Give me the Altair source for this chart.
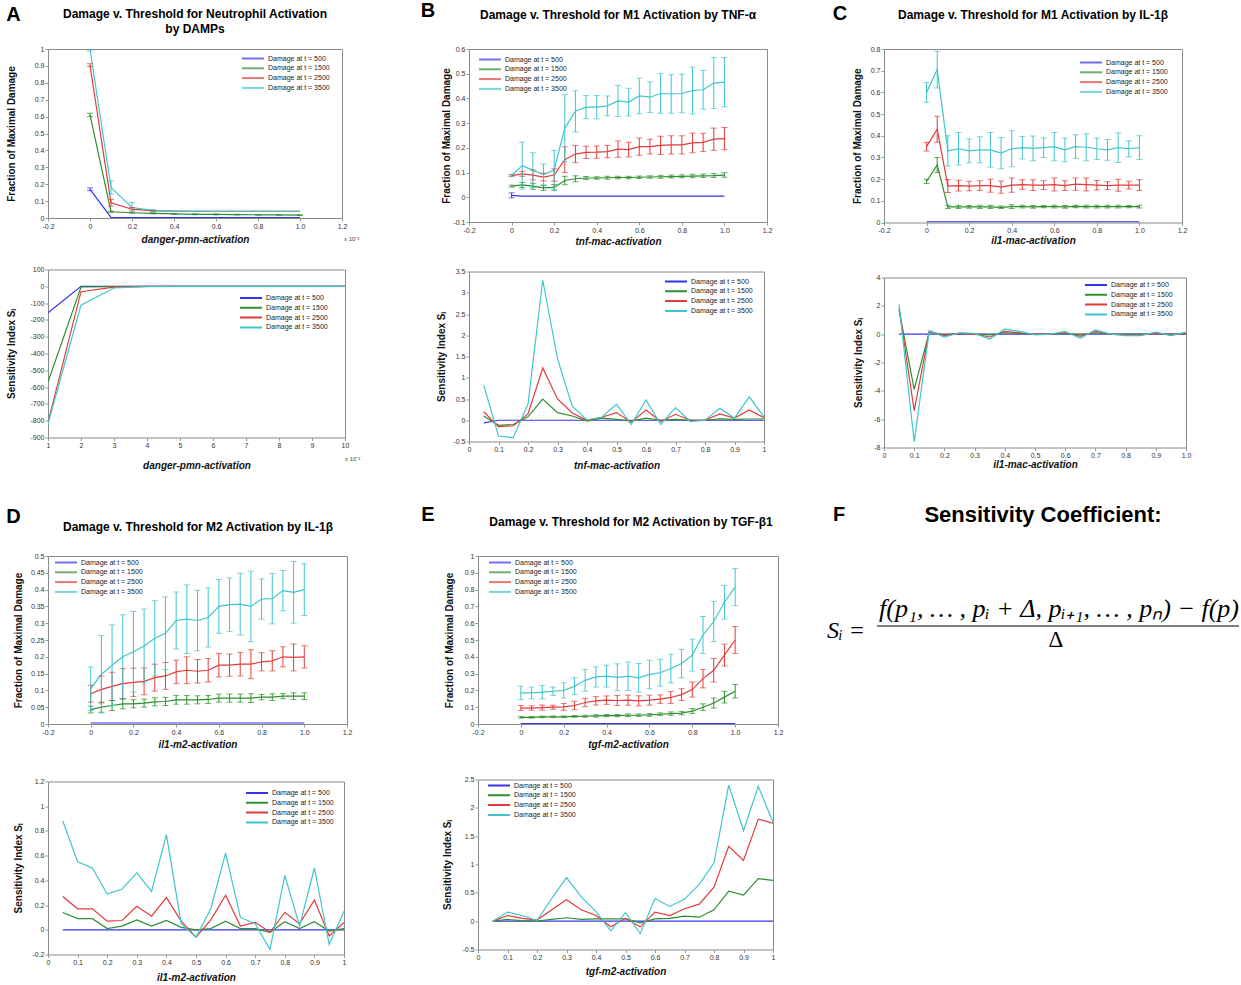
import altair as alt
import pandas as pd

FONT = "Liberation Sans"
SERIF = "Liberation Serif"

SERIES = ["Damage at t = 500", "Damage at t = 1500", "Damage at t = 2500", "Damage at t = 3500"]
COLORS = ["#3535ee", "#2f8f2f", "#e23b3b", "#3fc6cc"]

X21 = [0.0, 0.05, 0.1, 0.15, 0.2, 0.25, 0.3, 0.35, 0.4, 0.45, 0.5, 0.55, 0.6, 0.65, 0.7, 0.75, 0.8, 0.85, 0.9, 0.95, 1.0]
X20 = [0.05, 0.1, 0.15, 0.2, 0.25, 0.3, 0.35, 0.4, 0.45, 0.5, 0.55, 0.6, 0.65, 0.7, 0.75, 0.8, 0.85, 0.9, 0.95, 1.0]

# ---------------- Panel A ----------------
A_X = [0.0, 0.1, 0.2, 0.3, 0.4, 0.5, 0.6, 0.7, 0.8, 0.9, 1.0]
A_500 = [0.17, 0.004, 0.003, 0.003, 0.003, 0.003, 0.003, 0.003, 0.003, 0.003, 0.003]
A_500_ERR = [0.008, 0, 0, 0, 0, 0, 0, 0, 0, 0, 0]
A_1500 = [0.61, 0.037, 0.031, 0.027, 0.024, 0.022, 0.021, 0.02, 0.019, 0.018, 0.017]
A_1500_ERR = [0.01, 0.004, 0.003, 0.003, 0.003, 0.003, 0.003, 0.002, 0.002, 0.002, 0.002]
A_2500 = [0.905, 0.09, 0.052, 0.042, 0.04, 0.04, 0.04, 0.04, 0.04, 0.04, 0.04]
A_2500_ERR = [0.008, 0.02, 0.01, 0.004, 0, 0, 0, 0, 0, 0, 0]
A_3500 = [1.0, 0.18, 0.062, 0.045, 0.042, 0.041, 0.04, 0.04, 0.04, 0.04, 0.04]
A_3500_ERR = [0.01, 0.04, 0.03, 0.005, 0, 0, 0, 0, 0, 0, 0]

AB_X = [1, 2, 3, 4, 5, 6, 7, 8, 9, 10]
AB_500 = [-158, 0, 0, 0, 0, 0, 0, 0, 0, 0]
AB_1500 = [-570, -4, -2, 0, 0, 0, 0, 0, 0, 0]
AB_2500 = [-810, -32, -5, -1, 0, 0, 0, 0, 0, 0]
AB_3500 = [-818, -112, -10, -2, 0, 0, 0, 0, 0, 0]

# ---------------- Panel B ----------------
B_500 = [0.008, 0.005, 0.005, 0.005, 0.005, 0.005, 0.005, 0.005, 0.005, 0.005, 0.005, 0.005, 0.005, 0.005, 0.005, 0.005, 0.005, 0.005, 0.005, 0.005, 0.005]
B_500_ERR = [0.01, 0, 0, 0, 0, 0, 0, 0, 0, 0, 0, 0, 0, 0, 0, 0, 0, 0, 0, 0, 0]
B_1500 = [0.045, 0.05, 0.045, 0.038, 0.04, 0.068, 0.075, 0.078, 0.078, 0.079, 0.08, 0.08, 0.081, 0.082, 0.083, 0.084, 0.085, 0.086, 0.087, 0.088, 0.09]
B_1500_ERR = [0.004, 0.01, 0.012, 0.01, 0.012, 0.017, 0.012, 0.006, 0.005, 0.006, 0.005, 0.005, 0.005, 0.005, 0.006, 0.006, 0.006, 0.007, 0.007, 0.008, 0.009]
B_2500 = [0.088, 0.095, 0.09, 0.082, 0.09, 0.152, 0.175, 0.182, 0.183, 0.185, 0.195, 0.193, 0.205, 0.205, 0.21, 0.212, 0.212, 0.22, 0.222, 0.235, 0.237]
B_2500_ERR = [0.003, 0.01, 0.02, 0.015, 0.025, 0.052, 0.035, 0.025, 0.025, 0.025, 0.033, 0.03, 0.035, 0.03, 0.037, 0.037, 0.037, 0.04, 0.037, 0.045, 0.045]
B_3500 = [0.088, 0.128, 0.11, 0.092, 0.11, 0.28, 0.348, 0.365, 0.365, 0.37, 0.39, 0.385, 0.41, 0.405, 0.42, 0.418, 0.42, 0.432, 0.435, 0.462, 0.466]
B_3500_ERR = [0.005, 0.095, 0.07, 0.042, 0.08, 0.135, 0.083, 0.047, 0.047, 0.04, 0.063, 0.056, 0.072, 0.062, 0.08, 0.078, 0.078, 0.095, 0.078, 0.103, 0.1]

BB_500 = [-0.06, 0.0, 0.0, 0.0, 0.0, 0.0, 0.0, 0.0, 0.0, 0.0, 0.0, 0.0, 0.0, 0.0, 0.0, 0.0, 0.0, 0.0, 0.0, 0.0]
BB_1500 = [0.1, -0.12, -0.1, 0.08, 0.5, 0.18, 0.1, -0.02, 0.05, 0.02, -0.02, 0.05, 0.0, 0.02, 0.0, 0.0, 0.03, 0.02, 0.03, 0.03]
BB_2500 = [0.2, -0.15, -0.13, 0.15, 1.23, 0.5, 0.17, 0.0, 0.07, 0.18, -0.05, 0.24, -0.03, 0.14, 0.0, 0.0, 0.15, 0.05, 0.24, 0.06]
BB_3500 = [0.82, -0.37, -0.41, 0.38, 3.3, 1.45, 0.33, 0.01, 0.07, 0.38, -0.1, 0.48, -0.1, 0.3, -0.03, 0.0, 0.28, 0.05, 0.55, 0.08]

# ---------------- Panel C ----------------
C_500 = [0.003, 0.003, 0.003, 0.003, 0.003, 0.003, 0.003, 0.003, 0.003, 0.003, 0.003, 0.003, 0.003, 0.003, 0.003, 0.003, 0.003, 0.003, 0.003, 0.003, 0.003]
C_500_ERR = [0, 0, 0, 0, 0, 0, 0, 0, 0, 0, 0, 0, 0, 0, 0, 0, 0, 0, 0, 0, 0]
C_1500 = [0.19, 0.265, 0.072, 0.072, 0.072, 0.072, 0.072, 0.07, 0.073, 0.073, 0.072, 0.073, 0.073, 0.072, 0.074, 0.073, 0.073, 0.073, 0.073, 0.073, 0.073]
C_1500_ERR = [0.01, 0.035, 0.008, 0.008, 0.006, 0.007, 0.007, 0.006, 0.009, 0.006, 0.006, 0.005, 0.006, 0.006, 0.006, 0.006, 0.006, 0.006, 0.006, 0.005, 0.006]
C_2500 = [0.35, 0.43, 0.168, 0.17, 0.168, 0.17, 0.17, 0.163, 0.172, 0.175, 0.172, 0.172, 0.175, 0.17, 0.177, 0.175, 0.172, 0.17, 0.172, 0.172, 0.172]
C_2500_ERR = [0.02, 0.06, 0.03, 0.025, 0.022, 0.022, 0.03, 0.028, 0.033, 0.022, 0.025, 0.02, 0.03, 0.022, 0.028, 0.03, 0.022, 0.018, 0.028, 0.018, 0.025]
C_3500 = [0.6, 0.705, 0.33, 0.34, 0.33, 0.335, 0.335, 0.32, 0.34, 0.345, 0.342, 0.345, 0.35, 0.335, 0.35, 0.347, 0.34, 0.335, 0.345, 0.34, 0.345]
C_3500_ERR = [0.045, 0.085, 0.07, 0.075, 0.055, 0.06, 0.08, 0.072, 0.083, 0.052, 0.057, 0.045, 0.065, 0.055, 0.055, 0.062, 0.05, 0.048, 0.068, 0.037, 0.055]

CB_500 = [0.0, 0.0, 0.0, 0.0, 0.0, 0.0, 0.0, 0.0, 0.0, 0.0, 0.0, 0.0, 0.0, 0.0, 0.0, 0.0, 0.0, 0.0, 0.0, 0.0]
CB_1500 = [1.7, -3.9, 0.15, -0.05, 0.05, 0.0, -0.05, 0.1, 0.05, 0.0, 0.0, 0.05, -0.05, 0.1, 0.0, 0.0, 0.0, 0.05, 0.0, 0.05]
CB_2500 = [1.8, -5.4, 0.2, -0.1, 0.05, 0.0, -0.2, 0.2, 0.1, 0.0, 0.0, 0.1, -0.15, 0.2, 0.0, -0.05, -0.05, 0.05, -0.05, 0.05]
CB_3500 = [2.1, -7.6, 0.25, -0.2, 0.1, 0.05, -0.35, 0.35, 0.2, -0.05, 0.0, 0.2, -0.3, 0.3, 0.0, -0.1, -0.1, 0.15, -0.1, 0.15]

# ---------------- Panel D ----------------
D_500 = [0.003, 0.003, 0.003, 0.003, 0.003, 0.003, 0.003, 0.003, 0.003, 0.003, 0.003, 0.003, 0.003, 0.003, 0.003, 0.003, 0.003, 0.003, 0.003, 0.003, 0.003]
D_500_ERR = [0, 0, 0, 0, 0, 0, 0, 0, 0, 0, 0, 0, 0, 0, 0, 0, 0, 0, 0, 0, 0]
D_1500 = [0.043, 0.05, 0.055, 0.06, 0.06, 0.062, 0.066, 0.067, 0.072, 0.072, 0.072, 0.073, 0.077, 0.077, 0.077, 0.077, 0.08, 0.08, 0.083, 0.083, 0.083]
D_1500_ERR = [0.01, 0.015, 0.015, 0.015, 0.012, 0.012, 0.012, 0.012, 0.013, 0.013, 0.012, 0.012, 0.012, 0.012, 0.012, 0.013, 0.008, 0.01, 0.008, 0.01, 0.01]
D_2500 = [0.09, 0.103, 0.112, 0.12, 0.124, 0.127, 0.138, 0.143, 0.155, 0.16, 0.157, 0.16, 0.175, 0.175, 0.178, 0.178, 0.185, 0.188, 0.2, 0.198, 0.2]
D_2500_ERR = [0.025, 0.04, 0.042, 0.045, 0.042, 0.04, 0.04, 0.04, 0.035, 0.04, 0.035, 0.035, 0.035, 0.033, 0.035, 0.043, 0.027, 0.03, 0.03, 0.04, 0.033]
D_3500 = [0.105, 0.148, 0.175, 0.2, 0.215, 0.232, 0.255, 0.27, 0.308, 0.312, 0.308, 0.317, 0.35, 0.355, 0.357, 0.35, 0.372, 0.373, 0.397, 0.392, 0.4]
D_3500_ERR = [0.065, 0.115, 0.12, 0.125, 0.12, 0.11, 0.112, 0.108, 0.085, 0.102, 0.09, 0.088, 0.08, 0.08, 0.092, 0.105, 0.06, 0.075, 0.06, 0.092, 0.077]

DB_500 = [0.0, 0.0, 0.0, 0.0, 0.0, 0.0, 0.0, 0.0, 0.0, 0.0, 0.0, 0.0, 0.0, 0.0, 0.0, 0.0, 0.0, 0.0, 0.0, 0.0]
DB_1500 = [0.14, 0.09, 0.09, 0.01, 0.03, 0.08, 0.03, 0.075, 0.02, 0.0, 0.01, 0.07, 0.01, 0.01, -0.02, 0.065, 0.01, 0.065, -0.01, 0.01]
DB_2500 = [0.27, 0.17, 0.17, 0.07, 0.075, 0.19, 0.11, 0.26, 0.07, -0.06, 0.08, 0.28, 0.03, 0.06, -0.02, 0.14, 0.05, 0.24, -0.05, 0.06]
DB_3500 = [0.88, 0.55, 0.5, 0.29, 0.33, 0.46, 0.31, 0.77, 0.05, -0.06, 0.17, 0.62, 0.1, 0.05, -0.16, 0.44, 0.03, 0.5, -0.12, 0.15]

# ---------------- Panel E ----------------
E_500 = [0.002, 0.002, 0.002, 0.002, 0.002, 0.002, 0.002, 0.002, 0.002, 0.002, 0.002, 0.002, 0.002, 0.002, 0.002, 0.002, 0.002, 0.002, 0.002, 0.002, 0.002]
E_500_ERR = [0, 0, 0, 0, 0, 0, 0, 0, 0, 0, 0, 0, 0, 0, 0, 0, 0, 0, 0, 0, 0]
E_1500 = [0.04, 0.04, 0.042, 0.043, 0.043, 0.045, 0.046, 0.048, 0.05, 0.05, 0.052, 0.052, 0.054, 0.058, 0.062, 0.065, 0.077, 0.1, 0.125, 0.16, 0.195]
E_1500_ERR = [0.005, 0.005, 0.005, 0.005, 0.005, 0.005, 0.006, 0.007, 0.007, 0.007, 0.008, 0.008, 0.008, 0.008, 0.01, 0.01, 0.015, 0.02, 0.03, 0.035, 0.04]
E_2500 = [0.095, 0.095, 0.098, 0.1, 0.102, 0.11, 0.128, 0.138, 0.142, 0.14, 0.142, 0.138, 0.142, 0.148, 0.158, 0.175, 0.205, 0.27, 0.32, 0.41, 0.5]
E_2500_ERR = [0.015, 0.013, 0.015, 0.012, 0.02, 0.025, 0.025, 0.025, 0.025, 0.03, 0.03, 0.03, 0.03, 0.025, 0.035, 0.035, 0.045, 0.055, 0.07, 0.065, 0.08]
E_3500 = [0.185, 0.185, 0.19, 0.195, 0.2, 0.225, 0.26, 0.28, 0.285, 0.278, 0.285, 0.275, 0.295, 0.305, 0.33, 0.36, 0.41, 0.53, 0.61, 0.725, 0.815]
E_3500_ERR = [0.04, 0.035, 0.04, 0.025, 0.045, 0.05, 0.065, 0.06, 0.065, 0.08, 0.085, 0.085, 0.085, 0.08, 0.085, 0.085, 0.095, 0.11, 0.12, 0.1, 0.11]

EB_500 = [0.0, 0.0, 0.0, 0.0, 0.0, 0.0, 0.0, 0.0, 0.0, 0.0, 0.0, 0.0, 0.0, 0.0, 0.0, 0.0, 0.0, 0.0, 0.0, 0.0]
EB_1500 = [0.0, 0.03, 0.01, 0.0, 0.03, 0.06, 0.03, 0.04, 0.04, 0.04, -0.03, 0.04, 0.05, 0.09, 0.07, 0.2, 0.53, 0.46, 0.75, 0.72]
EB_2500 = [0.0, 0.1, 0.05, 0.02, 0.2, 0.38, 0.2, 0.1, -0.1, 0.05, -0.1, 0.16, 0.1, 0.22, 0.3, 0.6, 1.32, 1.07, 1.8, 1.73]
EB_3500 = [0.0, 0.16, 0.1, 0.01, 0.4, 0.77, 0.43, 0.17, -0.17, 0.15, -0.22, 0.4, 0.26, 0.39, 0.65, 1.03, 2.4, 1.6, 2.38, 1.75]

# axis tick values
XV_TOP = [-0.2, 0.0, 0.2, 0.4, 0.6, 0.8, 1.0, 1.2]
XV_01 = [0.0, 0.1, 0.2, 0.3, 0.4, 0.5, 0.6, 0.7, 0.8, 0.9, 1.0]

FRACTION = "Fraction of Maximal Damage"
SENS = "Sensitivity Index S\u1d62"
LABEL_10 = "datum.value == 1 ? '1.0' : '' + datum.value"
LABEL_PLAIN = "'' + datum.value"


def long_df(x, vals, errs=None):
    rows = []
    for i, name in enumerate(SERIES):
        for j, xv in enumerate(x):
            v = vals[i][j]
            e = errs[i][j] if errs else 0.0
            rows.append({"x": xv, "v": v, "lo": v - e, "hi": v + e, "e": e, "s": name})
    return pd.DataFrame(rows)


def text_layer(txt, x, y, size, weight="normal", style="normal", align="center",
               font=FONT, baseline="middle", color="#000"):
    return alt.Chart(alt.Data(values=[{"t": txt}])).mark_text(
        font=font, fontSize=size, fontWeight=weight, fontStyle=style,
        align=align, baseline=baseline, color=color
    ).encode(x=alt.value(x), y=alt.value(y), text="t:N")


def panel(df, w, h, xdom, xvals, xexpr, ydom, yvals, xtitle, ytitle, x_tp, y_tp, lxy, errbars, extras=()):
    xaxis = alt.Axis(values=xvals, title=xtitle, titleFontStyle="italic", titlePadding=x_tp,
                     labelExpr=xexpr, labelFlush=False)
    yaxis = alt.Axis(values=yvals, title=ytitle, titlePadding=y_tp, labelExpr=LABEL_PLAIN)
    X = alt.X("x:Q", scale=alt.Scale(domain=xdom, nice=False, zero=False), axis=xaxis)
    ysc = alt.Scale(domain=ydom, nice=False, zero=False)
    col = alt.Color("s:N", scale=alt.Scale(domain=SERIES, range=COLORS), sort=SERIES,
                    legend=alt.Legend(title=None, orient="none", legendX=lxy[0], legendY=lxy[1],
                                      direction="vertical", symbolType="stroke"))
    base = alt.Chart(df)
    layers = [base.mark_line(strokeWidth=1.2, clip=True).encode(
        x=X, y=alt.Y("v:Q", scale=ysc, axis=yaxis), color=col)]
    if errbars:
        eb = base.transform_filter("datum.e > 0")
        layers.append(eb.mark_rule(strokeWidth=1, clip=True).encode(
            x=X, y=alt.Y("lo:Q", scale=ysc, axis=yaxis), y2="hi:Q", color=col))
        for f in ["lo", "hi"]:
            layers.append(eb.mark_tick(orient="horizontal", size=6, thickness=1, clip=True).encode(
                x=X, y=alt.Y(f + ":Q", scale=ysc, axis=yaxis), color=col))
    layers += list(extras)
    return alt.layer(*layers).properties(width=w, height=h)


def letter(t, x, y):
    return text_layer(t, x, y, 20, weight="bold")


def title(t, x, y):
    return text_layer(t, x, y, 12, weight="bold")


def x10(x, y):
    return text_layer("x 10\u207b\u00b3", x, y, 6, align="left", color="#444")


# ---------------- build panels ----------------
A_top = panel(long_df(A_X, [A_500, A_1500, A_2500, A_3500], [A_500_ERR, A_1500_ERR, A_2500_ERR, A_3500_ERR]),
              294, 169, [-0.2, 1.2], XV_TOP, LABEL_10, [0, 1],
              [0.0, 0.1, 0.2, 0.3, 0.4, 0.5, 0.6, 0.7, 0.8, 0.9, 1.0],
              "danger-pmn-activation", FRACTION, 5, 18, (193, 6), True,
              [letter("A", -34.5, -34),
               title("Damage v. Threshold for Neutrophil Activation", 147, -35),
               title("by DAMPs", 147, -20),
               x10(296, 190)])
A_bot = panel(long_df(AB_X, [AB_500, AB_1500, AB_2500, AB_3500]),
              297, 168, [1, 10], AB_X, LABEL_PLAIN, [-900, 100],
              [-900, -800, -700, -600, -500, -400, -300, -200, -100, 0, 100],
              "danger-pmn-activation", SENS, 12, 13, (191, 25), False,
              [x10(297, 189)])

B_top = panel(long_df(X21, [B_500, B_1500, B_2500, B_3500], [B_500_ERR, B_1500_ERR, B_2500_ERR, B_3500_ERR]),
              298, 173, [-0.2, 1.2], XV_TOP, LABEL_10, [-0.1, 0.6],
              [-0.1, 0.0, 0.1, 0.2, 0.3, 0.4, 0.5, 0.6],
              "tnf-mac-activation", FRACTION, 3, 1, (9, 7), True,
              [letter("B", -41, -38),
               title("Damage v. Threshold for M1 Activation by TNF-\u03b1", 149, -34)])
B_bot = panel(long_df(X20, [BB_500, BB_1500, BB_2500, BB_3500]),
              295, 170, [0, 1], XV_01, LABEL_PLAIN, [-0.5, 3.5],
              [-0.5, 0.0, 0.5, 1.0, 1.5, 2.0, 2.5, 3.0, 3.5],
              "tnf-mac-activation", SENS, 8, 6, (195, 6.5), False)

C_top = panel(long_df(X21, [C_500, C_1500, C_2500, C_3500], [C_500_ERR, C_1500_ERR, C_2500_ERR, C_3500_ERR]),
              298, 173.5, [-0.2, 1.2], XV_TOP, LABEL_10, [0, 0.8],
              [0.0, 0.1, 0.2, 0.3, 0.4, 0.5, 0.6, 0.7, 0.8],
              "il1-mac-activation", FRACTION, 2, 8, (195, 10), True,
              [letter("C", -44, -35),
               title("Damage v. Threshold for M1 Activation by IL-1\u03b2", 149, -34)])
C_bot = panel(long_df(X20, [CB_500, CB_1500, CB_2500, CB_3500]),
              302, 170, [0, 1], XV_01, LABEL_10, [-8, 4],
              [-8, -6, -4, -2, 0, 2, 4],
              "il1-mac-activation", SENS, 1, 10, (200, 4), False)

D_top = panel(long_df(X21, [D_500, D_1500, D_2500, D_3500], [D_500_ERR, D_1500_ERR, D_2500_ERR, D_3500_ERR]),
              299, 168, [-0.2, 1.2], XV_TOP, LABEL_10, [0, 0.5],
              [0.0, 0.05, 0.1, 0.15, 0.2, 0.25, 0.3, 0.35, 0.4, 0.45, 0.5],
              "il1-m2-activation", FRACTION, 4, 7, (6, 3), True,
              [letter("D", -34.5, -39),
               title("Damage v. Threshold for M2 Activation by IL-1\u03b2", 150, -29)])
D_bot = panel(long_df(X20, [DB_500, DB_1500, DB_2500, DB_3500]),
              296, 173, [0, 1], XV_01, LABEL_PLAIN, [-0.2, 1.2],
              [-0.2, 0.0, 0.2, 0.4, 0.6, 0.8, 1.0, 1.2],
              "il1-m2-activation", SENS, 7, 8, (197, 8), False)

E_top = panel(long_df(X21, [E_500, E_1500, E_2500, E_3500], [E_500_ERR, E_1500_ERR, E_2500_ERR, E_3500_ERR]),
              300, 168, [-0.2, 1.2], XV_TOP, LABEL_10, [0, 1],
              [0.0, 0.1, 0.2, 0.3, 0.4, 0.5, 0.6, 0.7, 0.8, 0.9, 1.0],
              "tgf-m2-activation", FRACTION, 4, 10, (10, 3), True,
              [letter("E", -50, -41),
               title("Damage v. Threshold for M2 Activation by TGF-\u03b21", 153, -34)])
E_bot = panel(long_df(X20, [EB_500, EB_1500, EB_2500, EB_3500]),
              295, 170, [0, 1], XV_01, LABEL_PLAIN, [-0.5, 2.5],
              [-0.5, 0.0, 0.5, 1.0, 1.5, 2.0, 2.5],
              "tgf-m2-activation", SENS, 6, 9, (9, 2.5), False)

# ---------------- Panel F (formula) ----------------
NUMERATOR = "f(p\u2081, \u2026 , p\u1d62 + \u0394, p\u1d62\u208a\u2081, \u2026 , p\u2099) \u2212 f(p)"
F_panel = alt.layer(
    letter("F", 12, -41),
    text_layer("Sensitivity Coefficient:", 216, -41, 22, weight="bold"),
    text_layer("S\u1d62 =", 0, 82, 24, style="italic", align="left", font=SERIF, baseline="alphabetic"),
    text_layer(NUMERATOR, 52, 61, 26, style="italic", align="left", font=SERIF, baseline="alphabetic"),
    alt.Chart(alt.Data(values=[{"t": "bar"}])).mark_rule(color="#000", strokeWidth=1.2).encode(
        x=alt.value(50), x2=alt.value(412), y=alt.value(70)),
    text_layer("\u0394", 229, 91, 23, font=SERIF, baseline="alphabetic"),
).properties(width=412, height=100, view=alt.ViewBackground(strokeOpacity=0))


def vc(*charts, spacing):
    return alt.vconcat(*charts, spacing=spacing).resolve_scale(color="independent")


def hc(*charts, spacing):
    return alt.hconcat(*charts, spacing=spacing).resolve_scale(color="independent")


colA = vc(A_top, A_bot, spacing=19.5)
colB = vc(B_top, B_bot, spacing=19.5)
colC = vc(C_top, C_bot, spacing=26.5)
colD = vc(D_top, D_bot, spacing=26.5)
colE = vc(E_top, E_bot, spacing=24.5)

row1 = hc(colA, colB, colC, spacing=59)
row2 = hc(colD, hc(colE, F_panel, spacing=43), spacing=67)

chart = vc(row1, row2, spacing=33).properties(
    padding={"left": 5, "top": 0, "right": 0, "bottom": 0}
).configure_axis(
    labelFont=FONT, labelFontSize=7, labelColor="#333", labelPadding=1,
    titleFont=FONT, titleFontSize=10, titleFontWeight="bold", titleColor="#111",
    grid=False, domain=False, tickSize=3, tickColor="#999", labelOverlap=False
).configure_view(
    stroke="#8a8a8a", strokeWidth=1
).configure_legend(
    labelFont=FONT, labelFontSize=7, labelColor="#222", symbolStrokeWidth=2,
    symbolSize=484, clipHeight=7, rowPadding=1.8, labelOffset=3, padding=0
)

chart.save("out.html", embed_options={"renderer": "svg", "actions": False})
